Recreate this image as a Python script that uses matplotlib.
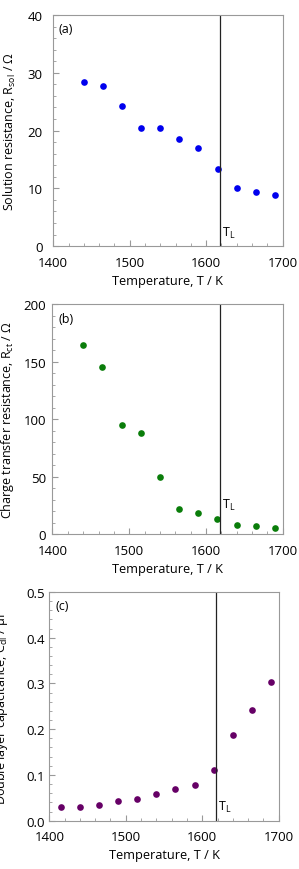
import matplotlib
matplotlib.use("Agg")
import matplotlib.pyplot as plt
from matplotlib.ticker import MultipleLocator

plt.rcParams['font.family'] = ['Open Sans', 'DejaVu Sans']
plt.rcParams['mathtext.fontset'] = 'custom'
plt.rcParams['mathtext.rm'] = 'Open Sans'

# liquidus temperature
T_L = 1618

# (a) solution resistance
temp_a = [1440, 1465, 1490, 1515, 1540, 1565, 1590, 1615, 1640, 1665, 1690]
r_sol = [28.5, 27.7, 24.2, 20.5, 20.4, 18.5, 16.9, 13.4, 10.0, 9.3, 8.8]

# (b) charge transfer resistance
temp_b = [1440, 1465, 1490, 1515, 1540, 1565, 1590, 1615, 1640, 1665, 1690]
r_ct = [164.7, 145.8, 95.0, 88.3, 49.9, 21.9, 18.7, 12.8, 7.9, 6.7, 5.2]

# (c) double layer capacitance
temp_c = [1415, 1440, 1465, 1490, 1515, 1540, 1565, 1590, 1615, 1640, 1665, 1690]
c_dl = [0.029, 0.031, 0.034, 0.042, 0.047, 0.058, 0.069, 0.078, 0.111, 0.188, 0.241, 0.303]

fig = plt.figure(figsize=(2.99, 8.70), dpi=100)

panels = [
    dict(rect=[0.178, 0.716, 0.767, 0.2655], x=temp_a, y=r_sol, color='#0000ee',
         ylim=(0, 40), major=10, minor=2, tag='(a)', tly=1.0, fmt='{:.0f}', ypad=7.5,
         ylabel=r'Solution resistance, R$_{\mathregular{sol}}$ / Ω', lx=-0.154),
    dict(rect=[0.1755, 0.385, 0.770, 0.264], x=temp_b, y=r_ct, color='#0a7d0a',
         ylim=(0, 200), major=50, minor=10, tag='(b)', tly=19.0, fmt='{:.0f}', ypad=4.5,
         ylabel=r'Charge transfer resistance, R$_{\mathregular{ct}}$ / Ω', lx=-0.158),
    dict(rect=[0.165, 0.0555, 0.767, 0.263], x=temp_c, y=c_dl, color='#660066',
         ylim=(0, 0.5), major=0.1, minor=0.02, tag='(c)', tly=0.015, fmt='{:.1f}', ypad=3,
         ylabel=r'Double layer capacitance, C$_{\mathregular{dl}}$ / μF', lx=-0.17),
]

for p in panels:
    ax = fig.add_axes(p['rect'])
    ax.plot(p['x'], p['y'], 'o', color=p['color'], markersize=4.8, markeredgewidth=0)
    ax.axvline(T_L, color='#222222', lw=0.9)
    ax.text(T_L + 3, p['tly'], r'T$_{\mathregular{L}}$', fontsize=9, va='bottom')
    ax.text(0.025, 0.94, p['tag'], transform=ax.transAxes, fontsize=9, va='center')
    ax.set_xlim(1400, 1700)
    ax.set_ylim(*p['ylim'])
    ax.xaxis.set_major_locator(MultipleLocator(100))
    ax.xaxis.set_minor_locator(MultipleLocator(20))
    ax.yaxis.set_major_locator(MultipleLocator(p['major']))
    ax.yaxis.set_minor_locator(MultipleLocator(p['minor']))
    ax.set_yticks(ax.get_yticks())
    ax.set_yticklabels([p['fmt'].format(v) for v in ax.get_yticks()])
    ax.set_ylim(*p['ylim'])
    for s in ax.spines.values():
        s.set_color('#999999')
        s.set_linewidth(0.8)
    ax.tick_params(which='both', direction='in', color='#999999', labelsize=9.5,
                   top=False, right=False)
    ax.tick_params(which='major', length=4)
    ax.tick_params(which='minor', length=2)
    ax.tick_params(axis='x', which='major', pad=7)
    ax.tick_params(axis='y', which='major', pad=p['ypad'])
    ax.set_xlabel('Temperature, T / K', fontsize=9.2, labelpad=3.5)
    ax.set_ylabel(p['ylabel'], fontsize=9)
    ax.yaxis.set_label_coords(p['lx'], 0.5)

fig.savefig('out.png', dpi=100)
